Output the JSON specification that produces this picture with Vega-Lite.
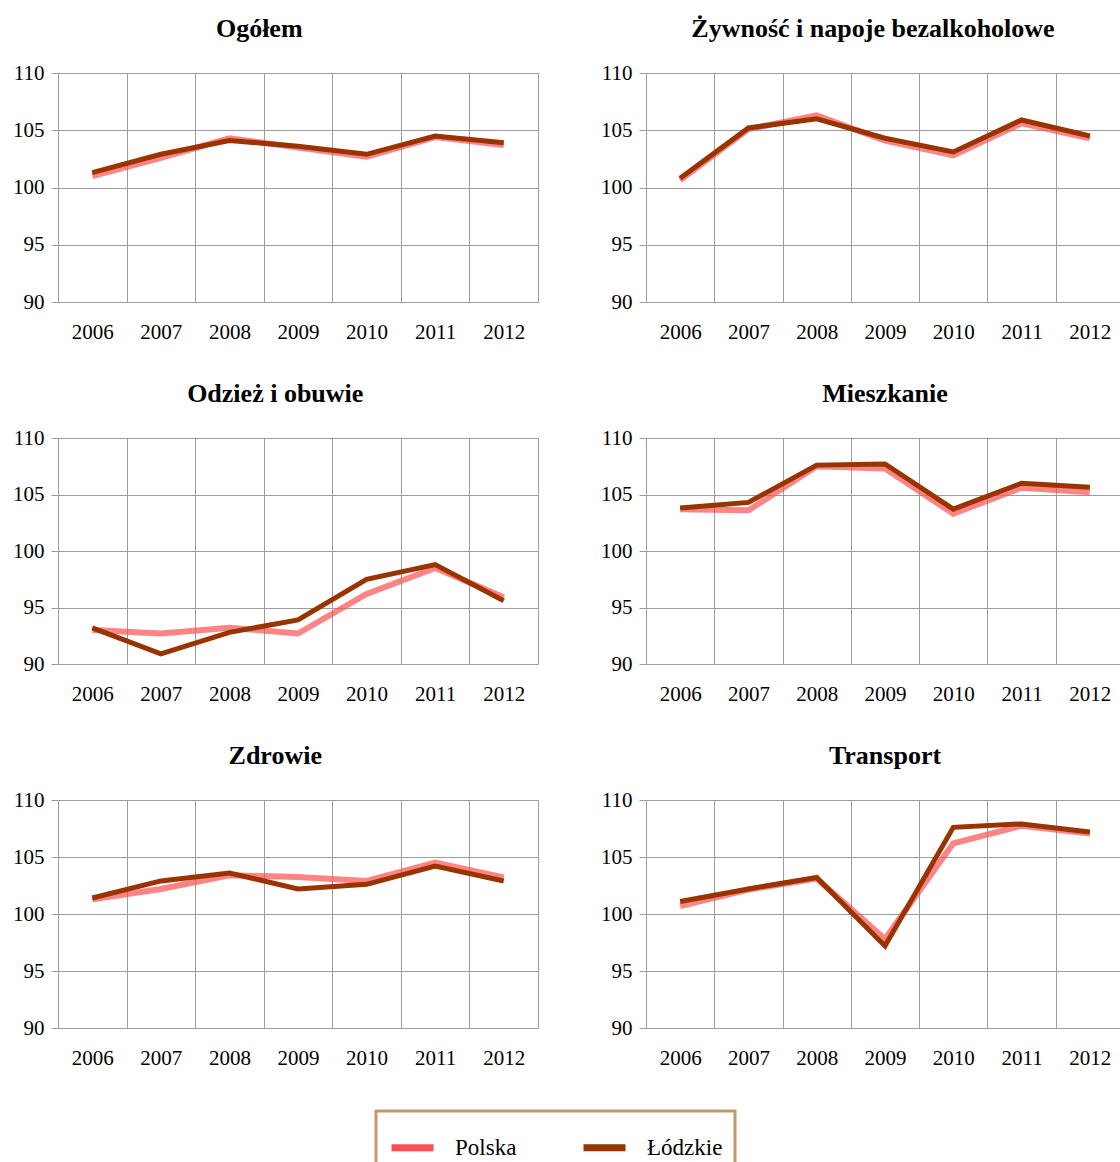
{
  "$schema": "https://vega.github.io/schema/vega-lite/v6.json",
  "padding": {"left": 12, "top": 16, "right": 0, "bottom": 0},
  "background": "white",
  "bounds": "flush",
  "columns": 2,
  "spacing": {"row": 136, "column": 108},
  "datasets": {
    "d": [
      {"cat": "Ogółem", "year": "2006", "region": "Polska", "value": 101.0},
      {"cat": "Ogółem", "year": "2007", "region": "Polska", "value": 102.6},
      {"cat": "Ogółem", "year": "2008", "region": "Polska", "value": 104.3},
      {"cat": "Ogółem", "year": "2009", "region": "Polska", "value": 103.5},
      {"cat": "Ogółem", "year": "2010", "region": "Polska", "value": 102.7},
      {"cat": "Ogółem", "year": "2011", "region": "Polska", "value": 104.4},
      {"cat": "Ogółem", "year": "2012", "region": "Polska", "value": 103.7},
      {"cat": "Ogółem", "year": "2006", "region": "Łódzkie", "value": 101.3},
      {"cat": "Ogółem", "year": "2007", "region": "Łódzkie", "value": 102.9},
      {"cat": "Ogółem", "year": "2008", "region": "Łódzkie", "value": 104.1},
      {"cat": "Ogółem", "year": "2009", "region": "Łódzkie", "value": 103.6},
      {"cat": "Ogółem", "year": "2010", "region": "Łódzkie", "value": 102.9},
      {"cat": "Ogółem", "year": "2011", "region": "Łódzkie", "value": 104.5},
      {"cat": "Ogółem", "year": "2012", "region": "Łódzkie", "value": 103.9},
      {"cat": "Żywność", "year": "2006", "region": "Polska", "value": 100.65},
      {"cat": "Żywność", "year": "2007", "region": "Polska", "value": 105.1},
      {"cat": "Żywność", "year": "2008", "region": "Polska", "value": 106.3},
      {"cat": "Żywność", "year": "2009", "region": "Polska", "value": 104.1},
      {"cat": "Żywność", "year": "2010", "region": "Polska", "value": 102.8},
      {"cat": "Żywność", "year": "2011", "region": "Polska", "value": 105.6},
      {"cat": "Żywność", "year": "2012", "region": "Polska", "value": 104.3},
      {"cat": "Żywność", "year": "2006", "region": "Łódzkie", "value": 100.8},
      {"cat": "Żywność", "year": "2007", "region": "Łódzkie", "value": 105.2},
      {"cat": "Żywność", "year": "2008", "region": "Łódzkie", "value": 106.0},
      {"cat": "Żywność", "year": "2009", "region": "Łódzkie", "value": 104.3},
      {"cat": "Żywność", "year": "2010", "region": "Łódzkie", "value": 103.1},
      {"cat": "Żywność", "year": "2011", "region": "Łódzkie", "value": 105.9},
      {"cat": "Żywność", "year": "2012", "region": "Łódzkie", "value": 104.5},
      {"cat": "Odzież", "year": "2006", "region": "Polska", "value": 93.0},
      {"cat": "Odzież", "year": "2007", "region": "Polska", "value": 92.7},
      {"cat": "Odzież", "year": "2008", "region": "Polska", "value": 93.2},
      {"cat": "Odzież", "year": "2009", "region": "Polska", "value": 92.7},
      {"cat": "Odzież", "year": "2010", "region": "Polska", "value": 96.2},
      {"cat": "Odzież", "year": "2011", "region": "Polska", "value": 98.5},
      {"cat": "Odzież", "year": "2012", "region": "Polska", "value": 95.9},
      {"cat": "Odzież", "year": "2006", "region": "Łódzkie", "value": 93.2},
      {"cat": "Odzież", "year": "2007", "region": "Łódzkie", "value": 90.9},
      {"cat": "Odzież", "year": "2008", "region": "Łódzkie", "value": 92.8},
      {"cat": "Odzież", "year": "2009", "region": "Łódzkie", "value": 93.9},
      {"cat": "Odzież", "year": "2010", "region": "Łódzkie", "value": 97.5},
      {"cat": "Odzież", "year": "2011", "region": "Łódzkie", "value": 98.8},
      {"cat": "Odzież", "year": "2012", "region": "Łódzkie", "value": 95.6},
      {"cat": "Mieszkanie", "year": "2006", "region": "Polska", "value": 103.7},
      {"cat": "Mieszkanie", "year": "2007", "region": "Polska", "value": 103.6},
      {"cat": "Mieszkanie", "year": "2008", "region": "Polska", "value": 107.5},
      {"cat": "Mieszkanie", "year": "2009", "region": "Polska", "value": 107.3},
      {"cat": "Mieszkanie", "year": "2010", "region": "Polska", "value": 103.3},
      {"cat": "Mieszkanie", "year": "2011", "region": "Polska", "value": 105.6},
      {"cat": "Mieszkanie", "year": "2012", "region": "Polska", "value": 105.2},
      {"cat": "Mieszkanie", "year": "2006", "region": "Łódzkie", "value": 103.8},
      {"cat": "Mieszkanie", "year": "2007", "region": "Łódzkie", "value": 104.3},
      {"cat": "Mieszkanie", "year": "2008", "region": "Łódzkie", "value": 107.6},
      {"cat": "Mieszkanie", "year": "2009", "region": "Łódzkie", "value": 107.7},
      {"cat": "Mieszkanie", "year": "2010", "region": "Łódzkie", "value": 103.7},
      {"cat": "Mieszkanie", "year": "2011", "region": "Łódzkie", "value": 106.0},
      {"cat": "Mieszkanie", "year": "2012", "region": "Łódzkie", "value": 105.65},
      {"cat": "Zdrowie", "year": "2006", "region": "Polska", "value": 101.3},
      {"cat": "Zdrowie", "year": "2007", "region": "Polska", "value": 102.2},
      {"cat": "Zdrowie", "year": "2008", "region": "Polska", "value": 103.4},
      {"cat": "Zdrowie", "year": "2009", "region": "Polska", "value": 103.25},
      {"cat": "Zdrowie", "year": "2010", "region": "Polska", "value": 102.9},
      {"cat": "Zdrowie", "year": "2011", "region": "Polska", "value": 104.5},
      {"cat": "Zdrowie", "year": "2012", "region": "Polska", "value": 103.2},
      {"cat": "Zdrowie", "year": "2006", "region": "Łódzkie", "value": 101.4},
      {"cat": "Zdrowie", "year": "2007", "region": "Łódzkie", "value": 102.9},
      {"cat": "Zdrowie", "year": "2008", "region": "Łódzkie", "value": 103.6},
      {"cat": "Zdrowie", "year": "2009", "region": "Łódzkie", "value": 102.2},
      {"cat": "Zdrowie", "year": "2010", "region": "Łódzkie", "value": 102.6},
      {"cat": "Zdrowie", "year": "2011", "region": "Łódzkie", "value": 104.2},
      {"cat": "Zdrowie", "year": "2012", "region": "Łódzkie", "value": 102.9},
      {"cat": "Transport", "year": "2006", "region": "Polska", "value": 100.7},
      {"cat": "Transport", "year": "2007", "region": "Polska", "value": 102.15},
      {"cat": "Transport", "year": "2008", "region": "Polska", "value": 103.1},
      {"cat": "Transport", "year": "2009", "region": "Polska", "value": 97.8},
      {"cat": "Transport", "year": "2010", "region": "Polska", "value": 106.2},
      {"cat": "Transport", "year": "2011", "region": "Polska", "value": 107.75},
      {"cat": "Transport", "year": "2012", "region": "Polska", "value": 107.05},
      {"cat": "Transport", "year": "2006", "region": "Łódzkie", "value": 101.1},
      {"cat": "Transport", "year": "2007", "region": "Łódzkie", "value": 102.2},
      {"cat": "Transport", "year": "2008", "region": "Łódzkie", "value": 103.2},
      {"cat": "Transport", "year": "2009", "region": "Łódzkie", "value": 97.2},
      {"cat": "Transport", "year": "2010", "region": "Łódzkie", "value": 107.6},
      {"cat": "Transport", "year": "2011", "region": "Łódzkie", "value": 107.9},
      {"cat": "Transport", "year": "2012", "region": "Łódzkie", "value": 107.2}
    ]
  },
  "data": {"name": "d"},
  "concat": [
    {
      "title": {"text": "Ogółem", "frame": "bounds", "dx": -16},
      "width": 480, "height": 229,
      "transform": [{"filter": "datum.cat === 'Ogółem'"}],
      "layer": [
        {"transform": [{"filter": "datum.region === 'Polska'"}], "mark": {"type": "line", "strokeWidth": 6, "strokeOpacity": 0.7},
         "encoding": {"x": {"field": "year", "type": "ordinal", "bandPosition": 0.5, "scale": {"type": "band", "paddingInner": 0, "paddingOuter": 0}, "axis": {"tickBand": "extent", "grid": true, "ticks": false, "labelAngle": 0, "labelPadding": 19, "title": null}},
                      "y": {"field": "value", "type": "quantitative", "scale": {"domain": [90, 110], "nice": false, "zero": false}, "axis": {"values": [90, 95, 100, 105, 110], "grid": true, "tickSize": 7, "labelPadding": 7, "title": null}},
                      "color": {"field": "region", "type": "nominal", "scale": {"domain": ["Polska", "Łódzkie"], "range": ["#FF5050", "#993300"]}, "legend": {"orient": "none", "legendX": 318, "legendY": 1038, "direction": "horizontal", "title": null}}}},
        {"transform": [{"filter": "datum.region === 'Łódzkie'"}], "mark": {"type": "line", "strokeWidth": 5},
         "encoding": {"x": {"field": "year", "type": "ordinal", "bandPosition": 0.5},
                      "y": {"field": "value", "type": "quantitative"},
                      "color": {"field": "region", "type": "nominal"}}}
      ]
    },
    {
      "title": {"text": "Żywność i napoje bezalkoholowe", "frame": "group", "dx": -12},
      "width": 478, "height": 229,
      "transform": [{"filter": "datum.cat === 'Żywność'"}],
      "layer": [
        {"transform": [{"filter": "datum.region === 'Polska'"}], "mark": {"type": "line", "strokeWidth": 6, "strokeOpacity": 0.7},
         "encoding": {"x": {"field": "year", "type": "ordinal", "bandPosition": 0.5, "scale": {"type": "band", "paddingInner": 0, "paddingOuter": 0}, "axis": {"tickBand": "extent", "grid": true, "ticks": false, "labelAngle": 0, "labelPadding": 19, "title": null}},
                      "y": {"field": "value", "type": "quantitative", "scale": {"domain": [90, 110], "nice": false, "zero": false}, "axis": {"values": [90, 95, 100, 105, 110], "grid": true, "tickSize": 7, "labelPadding": 7, "title": null}},
                      "color": {"field": "region", "type": "nominal"}}},
        {"transform": [{"filter": "datum.region === 'Łódzkie'"}], "mark": {"type": "line", "strokeWidth": 5},
         "encoding": {"x": {"field": "year", "type": "ordinal", "bandPosition": 0.5},
                      "y": {"field": "value", "type": "quantitative"},
                      "color": {"field": "region", "type": "nominal"}}}
      ]
    },
    {
      "title": {"text": "Odzież i obuwie", "frame": "bounds"},
      "width": 480, "height": 226,
      "transform": [{"filter": "datum.cat === 'Odzież'"}],
      "layer": [
        {"transform": [{"filter": "datum.region === 'Polska'"}], "mark": {"type": "line", "strokeWidth": 6, "strokeOpacity": 0.7},
         "encoding": {"x": {"field": "year", "type": "ordinal", "bandPosition": 0.5, "scale": {"type": "band", "paddingInner": 0, "paddingOuter": 0}, "axis": {"tickBand": "extent", "grid": true, "ticks": false, "labelAngle": 0, "labelPadding": 19, "title": null}},
                      "y": {"field": "value", "type": "quantitative", "scale": {"domain": [90, 110], "nice": false, "zero": false}, "axis": {"values": [90, 95, 100, 105, 110], "grid": true, "tickSize": 7, "labelPadding": 7, "title": null}},
                      "color": {"field": "region", "type": "nominal"}}},
        {"transform": [{"filter": "datum.region === 'Łódzkie'"}], "mark": {"type": "line", "strokeWidth": 5},
         "encoding": {"x": {"field": "year", "type": "ordinal", "bandPosition": 0.5},
                      "y": {"field": "value", "type": "quantitative"},
                      "color": {"field": "region", "type": "nominal"}}}
      ]
    },
    {
      "title": {"text": "Mieszkanie", "frame": "group"},
      "width": 478, "height": 226,
      "transform": [{"filter": "datum.cat === 'Mieszkanie'"}],
      "layer": [
        {"transform": [{"filter": "datum.region === 'Polska'"}], "mark": {"type": "line", "strokeWidth": 6, "strokeOpacity": 0.7},
         "encoding": {"x": {"field": "year", "type": "ordinal", "bandPosition": 0.5, "scale": {"type": "band", "paddingInner": 0, "paddingOuter": 0}, "axis": {"tickBand": "extent", "grid": true, "ticks": false, "labelAngle": 0, "labelPadding": 19, "title": null}},
                      "y": {"field": "value", "type": "quantitative", "scale": {"domain": [90, 110], "nice": false, "zero": false}, "axis": {"values": [90, 95, 100, 105, 110], "grid": true, "tickSize": 7, "labelPadding": 7, "title": null}},
                      "color": {"field": "region", "type": "nominal"}}},
        {"transform": [{"filter": "datum.region === 'Łódzkie'"}], "mark": {"type": "line", "strokeWidth": 5},
         "encoding": {"x": {"field": "year", "type": "ordinal", "bandPosition": 0.5},
                      "y": {"field": "value", "type": "quantitative"},
                      "color": {"field": "region", "type": "nominal"}}}
      ]
    },
    {
      "title": {"text": "Zdrowie", "frame": "bounds"},
      "width": 480, "height": 228,
      "transform": [{"filter": "datum.cat === 'Zdrowie'"}],
      "layer": [
        {"transform": [{"filter": "datum.region === 'Polska'"}], "mark": {"type": "line", "strokeWidth": 6, "strokeOpacity": 0.7},
         "encoding": {"x": {"field": "year", "type": "ordinal", "bandPosition": 0.5, "scale": {"type": "band", "paddingInner": 0, "paddingOuter": 0}, "axis": {"tickBand": "extent", "grid": true, "ticks": false, "labelAngle": 0, "labelPadding": 19, "title": null}},
                      "y": {"field": "value", "type": "quantitative", "scale": {"domain": [90, 110], "nice": false, "zero": false}, "axis": {"values": [90, 95, 100, 105, 110], "grid": true, "tickSize": 7, "labelPadding": 7, "title": null}},
                      "color": {"field": "region", "type": "nominal"}}},
        {"transform": [{"filter": "datum.region === 'Łódzkie'"}], "mark": {"type": "line", "strokeWidth": 5},
         "encoding": {"x": {"field": "year", "type": "ordinal", "bandPosition": 0.5},
                      "y": {"field": "value", "type": "quantitative"},
                      "color": {"field": "region", "type": "nominal"}}}
      ]
    },
    {
      "title": {"text": "Transport", "frame": "group"},
      "width": 478, "height": 228,
      "transform": [{"filter": "datum.cat === 'Transport'"}],
      "layer": [
        {"transform": [{"filter": "datum.region === 'Polska'"}], "mark": {"type": "line", "strokeWidth": 6, "strokeOpacity": 0.7},
         "encoding": {"x": {"field": "year", "type": "ordinal", "bandPosition": 0.5, "scale": {"type": "band", "paddingInner": 0, "paddingOuter": 0}, "axis": {"tickBand": "extent", "grid": true, "ticks": false, "labelAngle": 0, "labelPadding": 19, "title": null}},
                      "y": {"field": "value", "type": "quantitative", "scale": {"domain": [90, 110], "nice": false, "zero": false}, "axis": {"values": [90, 95, 100, 105, 110], "grid": true, "tickSize": 7, "labelPadding": 7, "title": null}},
                      "color": {"field": "region", "type": "nominal"}}},
        {"transform": [{"filter": "datum.region === 'Łódzkie'"}], "mark": {"type": "line", "strokeWidth": 5},
         "encoding": {"x": {"field": "year", "type": "ordinal", "bandPosition": 0.5},
                      "y": {"field": "value", "type": "quantitative"},
                      "color": {"field": "region", "type": "nominal"}}}
      ]
    }
  ],
  "resolve": {"scale": {"color": "shared"}},
  "config": {
    "view": {"stroke": null},
    "font": "Liberation Serif",
    "axis": {"labelFont": "Liberation Serif", "labelFontSize": 21, "labelColor": "black", "gridColor": "#9c9c9c", "gridOpacity": 1, "gridWidth": 1, "tickColor": "#9c9c9c", "tickWidth": 1, "domain": false},
    "title": {"font": "Liberation Serif", "fontSize": 26, "fontWeight": "bold", "color": "black", "anchor": "middle", "offset": 20},
    "legend": {"symbolType": "stroke", "symbolSize": 1764, "symbolStrokeWidth": 7, "symbolOpacity": 1, "labelFont": "Liberation Serif", "labelFontSize": 23, "labelColor": "black", "labelOffset": 18, "columnPadding": 52, "strokeColor": "#C4996A", "strokeWidth": 3, "padding": 12, "fillColor": "white"}
  }
}
